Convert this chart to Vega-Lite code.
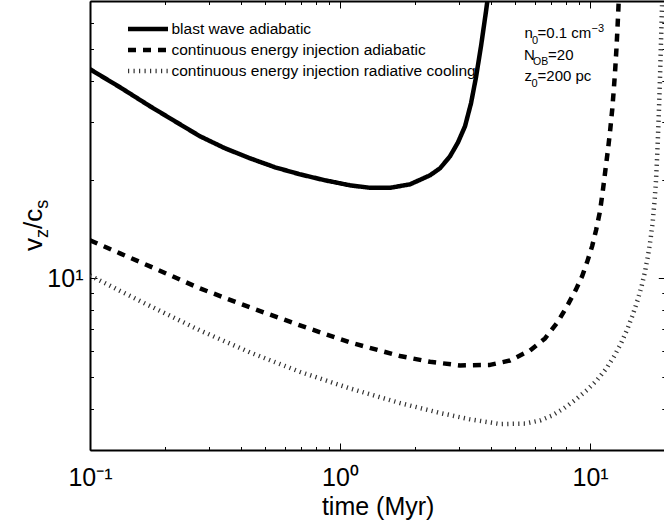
{
  "$schema": "https://vega.github.io/schema/vega-lite/v6.json",
  "width": 574,
  "height": 449,
  "autosize": {"type": "none"},
  "padding": {"left": 90, "top": 1, "right": 0, "bottom": 71},
  "background": "white",
  "config": {
    "view": {"stroke": null},
    "font": "Liberation Sans",
    "axis": {"grid": false, "domain": false, "labelFont": "Liberation Sans", "titleFont": "Liberation Sans", "tickColor": "#000", "labelColor": "#000", "titleColor": "#000", "domainColor": "#000"},
    "text": {"font": "Liberation Sans", "color": "#000"}
  },
  "datasets": {
    "curves": [
      {"series": "blast wave adiabatic", "t": 0.1, "v": 43.37},
      {"series": "blast wave adiabatic", "t": 0.1318, "v": 38.22},
      {"series": "blast wave adiabatic", "t": 0.1738, "v": 33.45},
      {"series": "blast wave adiabatic", "t": 0.2188, "v": 30.10},
      {"series": "blast wave adiabatic", "t": 0.2754, "v": 27.10},
      {"series": "blast wave adiabatic", "t": 0.3467, "v": 24.91},
      {"series": "blast wave adiabatic", "t": 0.4365, "v": 23.22},
      {"series": "blast wave adiabatic", "t": 0.5495, "v": 21.80},
      {"series": "blast wave adiabatic", "t": 0.6918, "v": 20.75},
      {"series": "blast wave adiabatic", "t": 0.871, "v": 19.90},
      {"series": "blast wave adiabatic", "t": 1.0965, "v": 19.21},
      {"series": "blast wave adiabatic", "t": 1.318, "v": 18.88},
      {"series": "blast wave adiabatic", "t": 1.585, "v": 18.88},
      {"series": "blast wave adiabatic", "t": 1.905, "v": 19.34},
      {"series": "blast wave adiabatic", "t": 2.291, "v": 20.61},
      {"series": "blast wave adiabatic", "t": 2.512, "v": 21.65},
      {"series": "blast wave adiabatic", "t": 2.754, "v": 23.55},
      {"series": "blast wave adiabatic", "t": 2.965, "v": 25.98},
      {"series": "blast wave adiabatic", "t": 3.162, "v": 29.07},
      {"series": "blast wave adiabatic", "t": 3.342, "v": 34.17},
      {"series": "blast wave adiabatic", "t": 3.499, "v": 41.01},
      {"series": "blast wave adiabatic", "t": 3.664, "v": 50.98},
      {"series": "blast wave adiabatic", "t": 3.837, "v": 65.16},
      {"series": "blast wave adiabatic", "t": 3.908, "v": 72.4},
      {"series": "continuous energy injection adiabatic", "t": 0.1, "v": 13.06},
      {"series": "continuous energy injection adiabatic", "t": 0.1318, "v": 11.92},
      {"series": "continuous energy injection adiabatic", "t": 0.1738, "v": 10.88},
      {"series": "continuous energy injection adiabatic", "t": 0.2754, "v": 9.32},
      {"series": "continuous energy injection adiabatic", "t": 0.4365, "v": 8.16},
      {"series": "continuous energy injection adiabatic", "t": 0.6918, "v": 7.19},
      {"series": "continuous energy injection adiabatic", "t": 1.0965, "v": 6.38},
      {"series": "continuous energy injection adiabatic", "t": 1.738, "v": 5.80},
      {"series": "continuous energy injection adiabatic", "t": 2.291, "v": 5.57},
      {"series": "continuous energy injection adiabatic", "t": 3.020, "v": 5.43},
      {"series": "continuous energy injection adiabatic", "t": 3.981, "v": 5.45},
      {"series": "continuous energy injection adiabatic", "t": 4.786, "v": 5.62},
      {"series": "continuous energy injection adiabatic", "t": 5.754, "v": 6.03},
      {"series": "continuous energy injection adiabatic", "t": 6.607, "v": 6.56},
      {"series": "continuous energy injection adiabatic", "t": 7.447, "v": 7.39},
      {"series": "continuous energy injection adiabatic", "t": 8.166, "v": 8.33},
      {"series": "continuous energy injection adiabatic", "t": 8.790, "v": 9.26},
      {"series": "continuous energy injection adiabatic", "t": 9.290, "v": 10.14},
      {"series": "continuous energy injection adiabatic", "t": 9.727, "v": 11.19},
      {"series": "continuous energy injection adiabatic", "t": 10.19, "v": 12.52},
      {"series": "continuous energy injection adiabatic", "t": 10.57, "v": 14.01},
      {"series": "continuous energy injection adiabatic", "t": 10.96, "v": 16.01},
      {"series": "continuous energy injection adiabatic", "t": 11.27, "v": 18.68},
      {"series": "continuous energy injection adiabatic", "t": 11.53, "v": 21.50},
      {"series": "continuous energy injection adiabatic", "t": 11.80, "v": 24.74},
      {"series": "continuous energy injection adiabatic", "t": 12.05, "v": 28.47},
      {"series": "continuous energy injection adiabatic", "t": 12.27, "v": 32.75},
      {"series": "continuous energy injection adiabatic", "t": 12.45, "v": 37.69},
      {"series": "continuous energy injection adiabatic", "t": 12.61, "v": 43.37},
      {"series": "continuous energy injection adiabatic", "t": 12.75, "v": 49.91},
      {"series": "continuous energy injection adiabatic", "t": 12.87, "v": 57.42},
      {"series": "continuous energy injection adiabatic", "t": 12.98, "v": 66.09},
      {"series": "continuous energy injection adiabatic", "t": 13.06, "v": 73.94},
      {"series": "continuous energy injection radiative cooling", "t": 0.1, "v": 10.21},
      {"series": "continuous energy injection radiative cooling", "t": 0.1318, "v": 9.16},
      {"series": "continuous energy injection radiative cooling", "t": 0.1738, "v": 8.24},
      {"series": "continuous energy injection radiative cooling", "t": 0.2754, "v": 6.94},
      {"series": "continuous energy injection radiative cooling", "t": 0.4365, "v": 5.95},
      {"series": "continuous energy injection radiative cooling", "t": 0.6918, "v": 5.19},
      {"series": "continuous energy injection radiative cooling", "t": 1.0965, "v": 4.62},
      {"series": "continuous energy injection radiative cooling", "t": 1.738, "v": 4.17},
      {"series": "continuous energy injection radiative cooling", "t": 2.512, "v": 3.89},
      {"series": "continuous energy injection radiative cooling", "t": 3.311, "v": 3.72},
      {"series": "continuous energy injection radiative cooling", "t": 4.365, "v": 3.60},
      {"series": "continuous energy injection radiative cooling", "t": 5.495, "v": 3.61},
      {"series": "continuous energy injection radiative cooling", "t": 6.310, "v": 3.69},
      {"series": "continuous energy injection radiative cooling", "t": 7.047, "v": 3.82},
      {"series": "continuous energy injection radiative cooling", "t": 7.870, "v": 4.02},
      {"series": "continuous energy injection radiative cooling", "t": 8.790, "v": 4.28},
      {"series": "continuous energy injection radiative cooling", "t": 9.727, "v": 4.57},
      {"series": "continuous energy injection radiative cooling", "t": 10.67, "v": 4.90},
      {"series": "continuous energy injection radiative cooling", "t": 11.59, "v": 5.30},
      {"series": "continuous energy injection radiative cooling", "t": 12.47, "v": 5.78},
      {"series": "continuous energy injection radiative cooling", "t": 13.30, "v": 6.34},
      {"series": "continuous energy injection radiative cooling", "t": 14.06, "v": 6.97},
      {"series": "continuous energy injection radiative cooling", "t": 14.79, "v": 7.71},
      {"series": "continuous energy injection radiative cooling", "t": 15.49, "v": 8.57},
      {"series": "continuous energy injection radiative cooling", "t": 16.07, "v": 9.45},
      {"series": "continuous energy injection radiative cooling", "t": 16.60, "v": 10.50},
      {"series": "continuous energy injection radiative cooling", "t": 17.06, "v": 11.75},
      {"series": "continuous energy injection radiative cooling", "t": 17.46, "v": 13.15},
      {"series": "continuous energy injection radiative cooling", "t": 17.82, "v": 14.92},
      {"series": "continuous energy injection radiative cooling", "t": 18.11, "v": 17.17},
      {"series": "continuous energy injection radiative cooling", "t": 18.37, "v": 20.04},
      {"series": "continuous energy injection radiative cooling", "t": 18.57, "v": 23.88},
      {"series": "continuous energy injection radiative cooling", "t": 18.74, "v": 28.47},
      {"series": "continuous energy injection radiative cooling", "t": 18.90, "v": 33.93},
      {"series": "continuous energy injection radiative cooling", "t": 19.04, "v": 40.44},
      {"series": "continuous energy injection radiative cooling", "t": 19.16, "v": 48.19},
      {"series": "continuous energy injection radiative cooling", "t": 19.29, "v": 57.42},
      {"series": "continuous energy injection radiative cooling", "t": 19.41, "v": 68.46},
      {"series": "continuous energy injection radiative cooling", "t": 19.48, "v": 74.99}
    ]
  },
  "layer": [
    {
      "data": {"name": "curves"},
      "mark": {"type": "line", "strokeWidth": 4.5, "clip": true, "strokeCap": "butt", "strokeJoin": "round"},
      "encoding": {
        "x": {
          "field": "t", "type": "quantitative",
          "scale": {"type": "log", "domain": [0.1, 20], "range": [0, 575.3], "nice": false},
          "axis": {
            "orient": "bottom", "domain": true, "domainWidth": 2, "ticks": false,
            "values": [0.1, 1, 10],
            "labelExpr": "datum.value < 0.5 ? '10⁻¹' : (datum.value < 5 ? '10⁰' : '10¹')",
            "labelFontSize": 25, "labelPadding": 15, "labelFlush": false, "labelOverlap": false, "labelBound": false,
            "title": "time (Myr)", "titleFontSize": 25, "titleFontWeight": "normal", "titlePadding": 4
          }
        },
        "y": {
          "field": "v", "type": "quantitative",
          "scale": {"type": "log", "domain": [3, 70], "nice": false},
          "axis": {
            "orient": "left", "domain": true, "domainWidth": 2, "ticks": false,
            "values": [10], "labelExpr": "'10¹'",
            "labelFontSize": 25, "labelPadding": 7, "labelOverlap": false, "labelBound": false,
            "title": null
          }
        },
        "color": {
          "field": "series", "type": "nominal",
          "scale": {
            "domain": ["blast wave adiabatic", "continuous energy injection adiabatic", "continuous energy injection radiative cooling"],
            "range": ["#000000", "#000000", "#333333"]
          },
          "legend": {
            "orient": "none", "legendX": 35.5, "legendY": 18, "title": null, "padding": 0,
            "symbolType": "stroke", "symbolSize": 1600, "symbolStrokeWidth": 4.5, "clipHeight": 20, "rowPadding": 1,
            "labelFontSize": 15.5, "labelFont": "Liberation Sans", "labelColor": "#000", "labelOffset": 1, "labelLimit": 400
          }
        },
        "strokeDash": {
          "field": "series", "type": "nominal",
          "scale": {
            "domain": ["blast wave adiabatic", "continuous energy injection adiabatic", "continuous energy injection radiative cooling"],
            "range": [[1, 0], [8, 7], [1.2, 4.3]]
          },
          "legend": {
            "orient": "none", "legendX": 35.5, "legendY": 18, "title": null, "padding": 0,
            "symbolType": "stroke", "symbolSize": 1600, "symbolStrokeWidth": 4.5, "clipHeight": 20, "rowPadding": 1,
            "labelFontSize": 15.5, "labelFont": "Liberation Sans", "labelColor": "#000", "labelOffset": 1, "labelLimit": 400
          }
        }
      }
    },
    {
      "data": {"values": [{}]},
      "mark": {"type": "text", "fontSize": 15, "align": "left", "baseline": "alphabetic", "dx": 0.5},
      "encoding": {
        "x": {"datum": 5.445, "type": "quantitative", "axis": {
          "orient": "bottom", "domain": false, "labels": false, "title": null,
          "values": [0.1, 0.2, 0.3, 0.4, 0.5, 0.6, 0.7, 0.8, 0.9, 1, 2, 3, 4, 5, 6, 7, 8, 9, 10, 20],
          "tickWidth": 1,
          "tickSize": {"condition": {"test": "datum.value == 0.1 || datum.value == 1 || datum.value == 10", "value": -7}, "value": -3.5}
        }},
        "y": {"datum": 54.0, "type": "quantitative", "axis": {
          "orient": "left", "domain": false, "labels": false, "title": null,
          "values": [3, 4, 5, 6, 7, 8, 9, 10, 20, 30, 40, 50, 60, 70],
          "tickWidth": 1,
          "tickSize": {"condition": {"test": "datum.value == 10", "value": -7}, "value": -3.5}
        }},
        "text": {"value": "n"}
      }
    },
    {
      "data": {"values": [{}]},
      "mark": {"type": "text", "fontSize": 11, "align": "left", "baseline": "alphabetic", "dx": 8, "dy": 6},
      "encoding": {
        "x": {"datum": 5.445, "type": "quantitative", "axis": {
          "orient": "top", "domain": true, "domainWidth": 2, "labels": false, "title": null,
          "values": [0.1, 0.2, 0.3, 0.4, 0.5, 0.6, 0.7, 0.8, 0.9, 1, 2, 3, 4, 5, 6, 7, 8, 9, 10, 20],
          "tickWidth": 1,
          "tickSize": {"condition": {"test": "datum.value == 0.1 || datum.value == 1 || datum.value == 10", "value": -7}, "value": -3.5}
        }},
        "y": {"datum": 54.0, "type": "quantitative", "axis": {
          "orient": "right", "offset": 1.3, "domain": true, "domainWidth": 2, "labels": false, "title": null,
          "values": [3, 4, 5, 6, 7, 8, 9, 10, 20, 30, 40, 50, 60, 70],
          "tickWidth": 1,
          "tickSize": {"condition": {"test": "datum.value == 10", "value": -7}, "value": -3.5}
        }},
        "text": {"value": "0"}
      }
    },
    {
      "data": {"values": [{}]},
      "mark": {"type": "text", "fontSize": 15, "align": "left", "baseline": "alphabetic", "dx": 13.5},
      "encoding": {
        "x": {"datum": 5.445, "type": "quantitative", "axis": null},
        "y": {"datum": 54.0, "type": "quantitative", "axis": null},
        "text": {"value": "=0.1 cm"}
      }
    },
    {
      "data": {"values": [{}]},
      "mark": {"type": "text", "fontSize": 11, "align": "left", "baseline": "alphabetic", "dx": 67.5, "dy": -6},
      "encoding": {
        "x": {"datum": 5.445, "type": "quantitative", "axis": null},
        "y": {"datum": 54.0, "type": "quantitative", "axis": null},
        "text": {"value": "−3"}
      }
    },
    {
      "data": {"values": [{}]},
      "mark": {"type": "text", "fontSize": 15, "align": "left", "baseline": "alphabetic", "dx": 0},
      "encoding": {
        "x": {"datum": 5.445, "type": "quantitative", "axis": null},
        "y": {"datum": 46.3, "type": "quantitative", "axis": null},
        "text": {"value": "N"}
      }
    },
    {
      "data": {"values": [{}]},
      "mark": {"type": "text", "fontSize": 10.5, "align": "left", "baseline": "alphabetic", "dx": 9, "dy": 5.5},
      "encoding": {
        "x": {"datum": 5.445, "type": "quantitative", "axis": null},
        "y": {"datum": 46.3, "type": "quantitative", "axis": null},
        "text": {"value": "OB"}
      }
    },
    {
      "data": {"values": [{}]},
      "mark": {"type": "text", "fontSize": 15, "align": "left", "baseline": "alphabetic", "dx": 24},
      "encoding": {
        "x": {"datum": 5.445, "type": "quantitative", "axis": null},
        "y": {"datum": 46.3, "type": "quantitative", "axis": null},
        "text": {"value": "=20"}
      }
    },
    {
      "data": {"values": [{}]},
      "mark": {"type": "text", "fontSize": 15, "align": "left", "baseline": "alphabetic", "dx": 0.5},
      "encoding": {
        "x": {"datum": 5.445, "type": "quantitative", "axis": null},
        "y": {"datum": 40.0, "type": "quantitative", "axis": null},
        "text": {"value": "z"}
      }
    },
    {
      "data": {"values": [{}]},
      "mark": {"type": "text", "fontSize": 11, "align": "left", "baseline": "alphabetic", "dx": 7.5, "dy": 6.5},
      "encoding": {
        "x": {"datum": 5.445, "type": "quantitative", "axis": null},
        "y": {"datum": 40.0, "type": "quantitative", "axis": null},
        "text": {"value": "0"}
      }
    },
    {
      "data": {"values": [{}]},
      "mark": {"type": "text", "fontSize": 15, "align": "left", "baseline": "alphabetic", "dx": 13.5},
      "encoding": {
        "x": {"datum": 5.445, "type": "quantitative", "axis": null},
        "y": {"datum": 40.0, "type": "quantitative", "axis": null},
        "text": {"value": "=200 pc"}
      }
    },
    {
      "data": {"values": [{}]},
      "mark": {"type": "text", "fontSize": 26, "align": "left", "baseline": "alphabetic", "angle": 270, "dx": -25.5, "dy": -48},
      "encoding": {
        "x": {"datum": 0.1, "type": "quantitative", "axis": null},
        "y": {"datum": 14.5, "type": "quantitative", "axis": null},
        "text": {"value": "v"}
      }
    },
    {
      "data": {"values": [{}]},
      "mark": {"type": "text", "fontSize": 18, "align": "left", "baseline": "alphabetic", "angle": 270, "dx": -12.5, "dy": -42},
      "encoding": {
        "x": {"datum": 0.1, "type": "quantitative", "axis": null},
        "y": {"datum": 14.5, "type": "quantitative", "axis": null},
        "text": {"value": "z"}
      }
    },
    {
      "data": {"values": [{}]},
      "mark": {"type": "text", "fontSize": 26, "align": "left", "baseline": "alphabetic", "angle": 270, "dx": -3.5, "dy": -48},
      "encoding": {
        "x": {"datum": 0.1, "type": "quantitative", "axis": null},
        "y": {"datum": 14.5, "type": "quantitative", "axis": null},
        "text": {"value": "/c"}
      }
    },
    {
      "data": {"values": [{}]},
      "mark": {"type": "text", "fontSize": 18, "align": "left", "baseline": "alphabetic", "angle": 270, "dx": 16.7, "dy": -42},
      "encoding": {
        "x": {"datum": 0.1, "type": "quantitative", "axis": null},
        "y": {"datum": 14.5, "type": "quantitative", "axis": null},
        "text": {"value": "s"}
      }
    }
  ],
  "resolve": {"axis": {"x": "independent", "y": "independent"}}
}
